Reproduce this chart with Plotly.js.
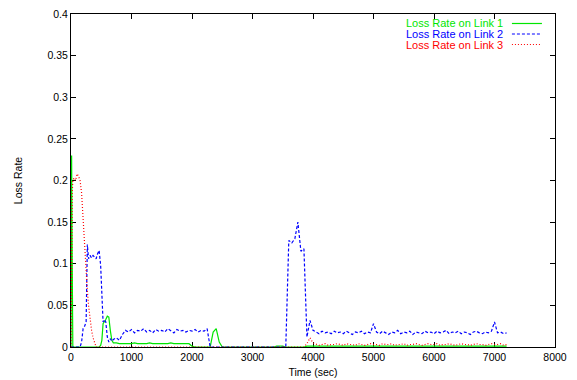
<!DOCTYPE html>
<html>
<head>
<meta charset="utf-8">
<script src="https://cdn.plot.ly/plotly-3.0.1.min.js"></script>
<style>html,body{margin:0;padding:0;background:#fff;}#chart{width:577px;height:380px;}</style>
</head>
<body>
<div id="chart"></div>
<script>
// Time (sec)
const time = [
  0,10,20,30,50,75,100,125,150,175,
  200,225,250,270,290,315,340,365,390,415,
  440,465,490,510,530,550,575,600,625,650,
  675,700,750,800,850,900,
  950,1000,1050,1100,1150,1200,1250,1300,1350,1400,
  1450,1500,1550,1600,1650,1700,1750,1800,1850,1900,
  1950,2000,2050,2100,2150,2200,2250,2300,2350,2400,
  2450,2500,2550,2600,2650,2700,2750,2800,2850,2900,
  2950,3000,3050,3100,3150,3200,3250,3300,3350,3400,
  3450,3500,3550,3600,3650,3700,3750,3800,3850,3900,
  3950,4000,4050,4100,4150,4200,4250,4300,4350,4400,
  4450,4500,4550,4600,4650,4700,4750,4800,4850,4900,
  4950,5000,5050,5100,5150,5200,5250,5300,5350,5400,
  5450,5500,5550,5600,5650,5700,5750,5800,5850,5900,
  5950,6000,6050,6100,6150,6200,6250,6300,6350,6400,
  6450,6500,6550,6600,6650,6700,6750,6800,6850,6900,
  6950,7000,7050,7100,7150,7200
];

// Loss Rate on Link 1
const link1 = [
  0,0.23,0.1,0,0,0,0,0,0,0,
  0,0,0,0,0,0,0,0,0,0,
  0,0,0.002,0.008,0.028,0.03,0.033,0.037,0.036,0.02,
  0.008,0.005,0.005,0.004,0.004,0.004,
  0.004,0.004,0.005,0.004,0.004,0.004,0.004,0.005,0.004,0.004,
  0.004,0.004,0.004,0.004,0.005,0.004,0.004,0.004,0.004,0.004,
  0.004,0.001,0,0,0,0,0,0,0.018,0.022,
  0.006,0,0,0,0,0,0,0,0,0,
  0,0,0,0,0,0,0,0,0,0.001,
  0.001,0.001,0,0,0,0,0,0,0,0.001,
  0.001,0.001,0.001,0.001,0.001,0.001,0.001,0.001,0.001,0.001,
  0.001,0.001,0.001,0.001,0.001,0.001,0.001,0.001,0.001,0.001,
  0.001,0.001,0.001,0.001,0.001,0.001,0.001,0.001,0.001,0.001,
  0.001,0.001,0.001,0.001,0.001,0.001,0.001,0.001,0.001,0.001,
  0.001,0.001,0.001,0.001,0.001,0.001,0.001,0.001,0.001,0.001,
  0.001,0.001,0.001,0.001,0.001,0.001,0.001,0.001,0.001,0.001,
  0.001,0.001,0.001,0.001,0.001,0.001
];

// Loss Rate on Link 2
const link2 = [
  0,0,0,0,0,0,0,0,0,0.006,
  0.022,0.025,0.03,0.123,0.106,0.11,0.107,0.11,0.108,0.106,
  0.112,0.116,0.098,0.06,0.03,0.033,0.03,0.012,0.006,0.01,
  0.007,0.009,0.011,0.008,0.015,0.02,
  0.018,0.021,0.017,0.02,0.019,0.022,0.018,0.02,0.017,0.021,
  0.019,0.02,0.018,0.022,0.019,0.017,0.021,0.019,0.02,0.018,
  0.02,0.019,0.021,0.018,0.02,0.019,0.022,0,0,0,
  0,0,0,0,0,0,0,0,0,0,
  0,0,0,0,0,0,0,0,0,0,
  0,0,0,0.128,0.125,0.13,0.15,0.115,0.118,0.012,
  0.032,0.02,0.018,0.016,0.019,0.017,0.018,0.016,0.019,0.017,
  0.018,0.016,0.019,0.017,0.015,0.018,0.017,0.019,0.016,0.018,
  0.017,0.028,0.018,0.016,0.019,0.017,0.015,0.018,0.017,0.02,
  0.016,0.018,0.017,0.019,0.015,0.018,0.017,0.016,0.019,0.017,
  0.018,0.016,0.019,0.017,0.018,0.02,0.016,0.018,0.017,0.019,
  0.016,0.018,0.017,0.015,0.018,0.019,0.017,0.016,0.018,0.017,
  0.019,0.03,0.017,0.018,0.016,0.017
];

// Loss Rate on Link 3
const link3 = [
  0,0.12,0.185,0.2,0.203,0.2,0.208,0.205,0.2,0.185,
  0.15,0.12,0.088,0.068,0.05,0.033,0.02,0.011,0.004,0,
  0,0,0,0,0,0,0,0,0,0,
  0,0,0,0,0,0,
  0,0,0,0,0,0,0,0,0,0,
  0,0,0,0,0,0,0,0,0,0,
  0,0,0,0,0,0,0,0,0,0,
  0,0,0,0,0,0,0,0,0,0,
  0,0,0,0,0,0,0,0,0,0,
  0,0,0,0,0,0,0,0,0,0.004,
  0.011,0.005,0.003,0.002,0.003,0.004,0.002,0.003,0.003,0.004,
  0.003,0.002,0.004,0.003,0.003,0.002,0.004,0.003,0.002,0.003,
  0.004,0.003,0.003,0.002,0.004,0.003,0.003,0.004,0.002,0.003,
  0.003,0.004,0.002,0.003,0.003,0.004,0.003,0.002,0.003,0.004,
  0.003,0.003,0.004,0.002,0.003,0.003,0.004,0.003,0.002,0.003,
  0.004,0.003,0.003,0.002,0.003,0.004,0.003,0.003,0.002,0.003,
  0.004,0.003,0.003,0.004,0.002,0.003
];

const seriesNames = ['Loss Rate on Link 1', 'Loss Rate on Link 2', 'Loss Rate on Link 3'];
const yTickVals = [0, 0.05, 0.1, 0.15, 0.2, 0.25, 0.3, 0.35, 0.4];
const yTickText = ['0', '0.05', '0.1', '0.15', '0.2', '0.25', '0.3', '0.35', '0.4'];
const xTickVals = [0, 1000, 2000, 3000, 4000, 5000, 6000, 7000, 8000];
const xTickText = ['0', '1000', '2000', '3000', '4000', '5000', '6000', '7000', '8000'];

const colors = ['#00e600', '#0000ff', '#ff0000'];
const dashes = ['solid', '3px,2px', '1px,2px'];
const seriesData = [link1, link2, link3];

const traces = seriesData.map((ys, i) => ({
  type: 'scatter', mode: 'lines', x: time, y: ys, name: seriesNames[i],
  line: {color: colors[i], width: 1.2, dash: dashes[i]}, showlegend: false
}));

const FONT = 'Liberation Sans, Arial, Helvetica, sans-serif';
const legY = [0.9715, 0.94, 0.9084];
const annotations = seriesNames.map((t, i) => ({
  xref: 'paper', yref: 'paper', x: 0.8967, y: legY[i], xanchor: 'right', yanchor: 'middle',
  text: t, showarrow: false, font: {family: FONT, size: 11, color: colors[i]}
}));
const shapes = seriesNames.map((t, i) => ({
  type: 'line', xref: 'paper', yref: 'paper', x0: 0.911, x1: 0.973, y0: legY[i], y1: legY[i],
  line: {color: colors[i], width: 1.2, dash: dashes[i]}
}));

const axisCommon = {
  showline: true, linecolor: '#000', linewidth: 1, mirror: 'ticks',
  ticks: 'inside', ticklen: 5, tickcolor: '#000', tickwidth: 1,
  showgrid: false, zeroline: false, layer: 'below traces',
  tickfont: {family: FONT, size: 10.5, color: '#000'}
};

const layout = {
  width: 577, height: 380,
  margin: {l: 71, r: 22, t: 14, b: 33},
  paper_bgcolor: '#fff', plot_bgcolor: '#fff',
  showlegend: false,
  xaxis: Object.assign({}, axisCommon, {
    range: [0, 8000], tickmode: 'array', tickvals: xTickVals, ticktext: xTickText,
    title: {text: 'Time (sec)', font: {family: FONT, size: 10.5, color: '#000'}, standoff: 7}
  }),
  yaxis: Object.assign({}, axisCommon, {
    range: [0, 0.4], tickmode: 'array', tickvals: yTickVals, ticktext: yTickText,
    title: {text: 'Loss Rate', font: {family: FONT, size: 10.5, color: '#000'}, standoff: 22}
  }),
  annotations: annotations,
  shapes: shapes
};

Plotly.newPlot('chart', traces, layout, {displayModeBar: false, staticPlot: true});
</script>
</body>
</html>
